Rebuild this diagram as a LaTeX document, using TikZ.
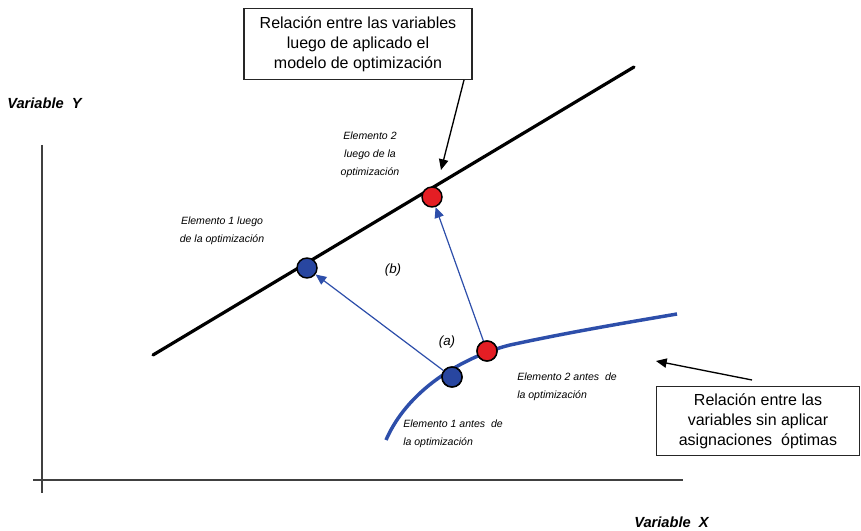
\documentclass[tikz,border=0pt]{standalone}
\usepackage{fontspec}
\setmainfont{Liberation Sans}
\usetikzlibrary{arrows.meta}
\definecolor{curveblue}{RGB}{45,78,170}
\definecolor{dotblue}{RGB}{40,70,160}
\definecolor{dotred}{RGB}{228,30,36}
\tikzset{
  boxnote/.style={draw=black!85, line width=1.2pt, fill=white, align=center, font=\fontsize{12}{15}\selectfont, inner sep=0pt},
  smalllab/.style={font=\fontsize{7.9}{13.5}\selectfont\itshape, inner sep=0pt},
  axislab/.style={font=\fontsize{11}{12}\selectfont\bfseries\itshape, inner sep=0pt, anchor=west},
  dot/.style={circle, draw=black, line width=1.1pt, minimum size=15pt, inner sep=0pt},
  bluearrow/.style={draw=curveblue, line width=0.9pt, -{Triangle[length=8pt,width=7pt]}},
  blackarrow/.style={draw=black, line width=1pt, -{Triangle[length=8pt,width=7pt]}},
  ablab/.style={font=\fontsize{10}{11}\selectfont\itshape, inner sep=0pt}
}
\begin{document}
\begin{tikzpicture}[x=0.75pt, y=-0.75pt]
\useasboundingbox (0,0) rectangle (861,531);
\fill[white] (0,0) rectangle (861,531);

% axes
\draw[black!75, line width=1.6pt] (42,145) -- (42,493);
\draw[black!75, line width=1.6pt] (33,480) -- (683,480);
\node[axislab] (vy) at (7,103) {Variable\ \ Y};
\node[axislab] (vx) at (634,522) {Variable\ \ X};

% black line (after optimization)
\coordinate (la) at (153,355);
\coordinate (lb) at (634,67);
\draw[black, line width=2.4pt, line cap=round] (la) -- (lb);

% blue curve (before)
\coordinate (ca) at (386,440);
\coordinate (cb) at (677,314);
\draw[curveblue, line width=2.6pt] (ca) .. controls (410,385) and (470,355) .. (510,345) .. controls (570,332) and (630,322) .. (cb);

% arrows between elements
\node[dot, fill=dotblue] (b1) at (452,377) {};
\node[dot, fill=dotred] (b2) at (487,351) {};
\node[dot, fill=dotblue] (a1) at (307,268) {};
\node[dot, fill=dotred] (a2) at (432,197) {};
\draw[bluearrow] (b1) -- (a1);
\draw[bluearrow] (b2) -- (a2);
% redraw dots on top
\node[dot, fill=dotblue] at (452,377) {};
\node[dot, fill=dotred] at (487,351) {};

\node[ablab] (lbb) at (393,270) {(b)};
\node[ablab] (lba) at (447,342) {(a)};

% small labels
\node[smalllab, align=center] (e2l) at (370,155) {Elemento 2\\luego de la\\optimización};
\node[smalllab, align=center] (e1l) at (222,231) {Elemento 1 luego\\de la optimización};
\node[smalllab, align=left, anchor=west] (e2a) at (517,387) {Elemento 2 antes\ \ de\\la optimización};
\node[smalllab, align=left, anchor=west] (e1a) at (403,434) {Elemento 1 antes\ \ de\\la optimización};

% note boxes
\node[boxnote, minimum width=171pt, minimum height=53pt] (topbox) at (358,44) {Relación entre las variables\\luego de aplicado el\\modelo de optimización};
\node[boxnote, minimum width=152pt, minimum height=52pt] (rightbox) at (758,421) {Relación entre las\\variables sin aplicar\\asignaciones\ \ óptimas};

\coordinate (t1) at (464,80);
\coordinate (t2) at (441,170);
\draw[blackarrow] (t1) -- (t2);
\coordinate (r1) at (752,380);
\coordinate (r2) at (656,361);
\draw[blackarrow] (r1) -- (r2);
\end{tikzpicture}
\end{document}
